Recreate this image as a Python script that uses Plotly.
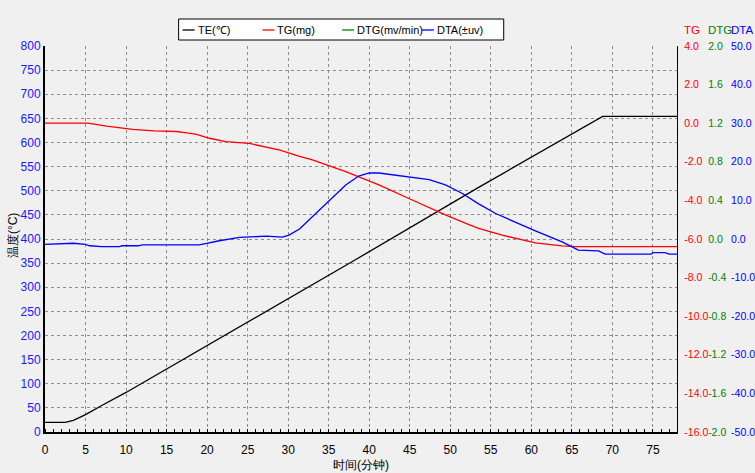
import plotly.graph_objects as go

# ---- data ----
te_x = [0, 2.5, 3.5, 5, 7, 10, 38.3, 53.5, 68.8, 78]
te_y = [20, 20, 24, 36, 55, 82, 357, 507, 654, 654]

tg_x = [0, 5.3, 7.6, 10.8, 13.5, 16.2, 17.5, 18.7, 20.3, 22.3, 25.2, 28, 29, 31.4, 33,
        37.1, 41.2, 45.3, 49.4, 52.3, 53.5, 56.4, 60.5, 63.8, 65.5, 78]
tg_y = [0.0, 0.0, -0.15, -0.32, -0.40, -0.43, -0.50, -0.58, -0.78, -0.95, -1.05, -1.30,
        -1.40, -1.72, -1.90, -2.51, -3.20, -3.98, -4.75, -5.25, -5.45, -5.80, -6.20,
        -6.36, -6.40, -6.40]

dtg_x = []
dtg_y = []

dta_x = [0, 2.5, 3.5, 5, 5.5, 7, 9.2, 9.5, 11.5, 12, 19, 19.5, 20.3, 21.5, 24, 27.3,
         29.3, 30.1, 31.4, 33, 35.1, 37.1, 38.7, 40, 41.2, 43.3, 45.3, 47.4, 49.4,
         51.5, 53.5, 55.6, 60.5, 63.8, 65.8, 68.3, 69.1, 74.8, 75, 76.5, 77, 78]
dta_y = [-1.4, -1.3, -1.1, -1.4, -1.75, -2.0, -2.0, -1.75, -1.75, -1.5, -1.5, -1.3,
         -0.9, -0.45, 0.4, 0.75, 0.5, 1.0, 2.6, 5.75, 10.1, 14.0, 16.3, 17.1, 17.1,
         16.5, 16.1, 15.4, 14.0, 11.8, 9.1, 6.6, 2.1, -0.75, -2.9, -3.1, -3.9, -3.9,
         -3.55, -3.55, -3.9, -3.9]

x_ticks = list(range(0, 80, 5))
left_ticks = list(range(0, 801, 50))
tg_ticks = [4 - 2 * i for i in range(11)]
dtg_ticks = [2.0 - 0.4 * i for i in range(11)]
dta_ticks = [50 - 10 * i for i in range(11)]

series_names = ["TE(℃)", "TG(mg)", "DTG(mv/min)", "DTA(±uv)"]
series_colors = ["black", "#ff0000", "#008000", "#0000ff"]

FONT = "Liberation Sans"
BG = "#f0f0f0"
W, H = 755, 473
ML, MT, MB = 45, 46, 41
PLOT_R = 679
PLOT_B = H - MB
PW = W - ML
PH = H - MT - MB
dom_end = (PLOT_R - ML) / PW
RSIZE = 10.5


def px(xpix):
    return (xpix - ML) / PW


def py(ypix):
    return (PLOT_B - ypix) / PH


fig = go.Figure()
fig.add_trace(go.Scatter(x=te_x, y=te_y, name=series_names[0], mode="lines",
                         line=dict(color=series_colors[0], width=1.3), yaxis="y"))
fig.add_trace(go.Scatter(x=tg_x, y=tg_y, name=series_names[1], mode="lines",
                         line=dict(color=series_colors[1], width=1.3), yaxis="y2"))
fig.add_trace(go.Scatter(x=dtg_x if dtg_x else [None], y=dtg_y if dtg_y else [None],
                         name=series_names[2], mode="lines",
                         line=dict(color=series_colors[2], width=1.3), yaxis="y3"))
fig.add_trace(go.Scatter(x=dta_x, y=dta_y, name=series_names[3], mode="lines",
                         line=dict(color=series_colors[3], width=1.3), yaxis="y4"))

grid = dict(showgrid=True, gridcolor="#8c8c8c", griddash="3px,3px", gridwidth=1)

fig.update_layout(
    width=W, height=H,
    margin=dict(l=ML, r=0, t=MT, b=MB),
    paper_bgcolor=BG, plot_bgcolor=BG,
    font=dict(family=FONT, size=12, color="black"),
    showlegend=False,
    xaxis=dict(domain=[0, dom_end], range=[0, 78], tickvals=x_ticks,
               showline=True, linecolor="black", linewidth=2, zeroline=False,
               ticks="", ticklabelstandoff=6, tickfont=dict(color="black", size=12),
               minor=dict(dtick=1, ticks="inside", ticklen=3, tickcolor="black", showgrid=False),
               title=dict(text="时间(分钟)", standoff=4, font=dict(size=12)),
               automargin=False,
               **grid),
    yaxis=dict(range=[0, 800], tickvals=left_ticks,
               showline=True, linecolor="black", linewidth=2, zeroline=False,
               ticks="", tickfont=dict(color="#1a1aff", size=12),
               automargin=False,
               **grid),
    yaxis2=dict(range=[-16, 4], tickvals=tg_ticks, ticktext=[f"{v:.1f}" for v in tg_ticks],
                overlaying="y", side="right", anchor="x",
                showline=True, linecolor="black", linewidth=1, showgrid=False, zeroline=False,
                ticks="", ticklabelstandoff=4,
                tickfont=dict(color="#ff0000", size=RSIZE)),
    yaxis3=dict(range=[-2, 2], tickvals=dtg_ticks, ticktext=[f"{v:.1f}" for v in dtg_ticks],
                overlaying="y", side="right", anchor="free", position=px(709),
                showline=False, showgrid=False, zeroline=False,
                ticks="", ticklabelstandoff=0,
                tickfont=dict(color="#008000", size=RSIZE)),
    yaxis4=dict(range=[-50, 50], tickvals=dta_ticks, ticktext=[f"{v:.1f}" for v in dta_ticks],
                overlaying="y", side="right", anchor="free", position=px(732),
                showline=False, showgrid=False, zeroline=False,
                ticks="", ticklabelstandoff=0,
                tickfont=dict(color="#0000ff", size=RSIZE)),
)

# left axis title (placed like the reference)
fig.add_annotation(text="温度(°C)", textangle=-90, x=px(13), xref="paper", xanchor="center",
                   y=py(236), yref="paper", yanchor="middle", showarrow=False,
                   font=dict(color="black", size=12, family=FONT))

# right axis titles
for txt, xp, col in [("TG", 684, "#ff0000"), ("DTG", 708, "#008000"), ("DTA", 731, "#0000ff")]:
    fig.add_annotation(text=txt, x=px(xp), xref="paper", xanchor="left",
                       y=py(30), yref="paper", yanchor="middle",
                       showarrow=False, font=dict(color=col, size=11.5, family=FONT))

# legend box drawn like the reference (short line samples)
fig.add_shape(type="rect", xref="paper", yref="paper",
              x0=px(179), x1=px(505), y0=py(40), y1=py(19),
              fillcolor="white", line=dict(color="black", width=1), layer="above")
leg_x = [183, 263, 343, 423]
for name, col, lx in zip(series_names, series_colors, leg_x):
    fig.add_shape(type="line", xref="paper", yref="paper",
                  x0=px(lx), x1=px(lx + 12), y0=py(30), y1=py(30),
                  line=dict(color=col, width=1.3), layer="above")
    fig.add_annotation(text=name, x=px(lx + 13), xref="paper", xanchor="left",
                       y=py(30), yref="paper", yanchor="middle", showarrow=False,
                       font=dict(color="black", size=11, family=FONT))

fig.write_html("out.html")
